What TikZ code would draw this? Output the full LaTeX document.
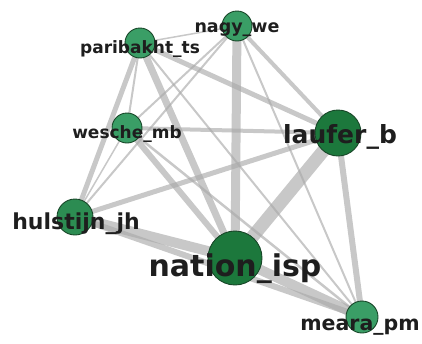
\documentclass[tikz,border=0pt]{standalone}
\usepackage{fontspec}
\setmainfont{DejaVu Sans}
\usepackage{xcolor}
\usepackage{tikz}
\usetikzlibrary{backgrounds}
\definecolor{nodelight}{RGB}{58,158,102}
\definecolor{nodemid}{RGB}{44,140,82}
\definecolor{nodedark}{RGB}{28,120,60}
\definecolor{nodeline}{RGB}{24,70,40}
\definecolor{edgegray}{RGB}{170,170,170}
\definecolor{labeltext}{RGB}{30,30,30}

\begin{document}
\begin{tikzpicture}[
        x=1pt, y=-1pt,
        author/.style={
            circle, draw=nodeline, line width=0.9pt,
            fill=nodelight, inner sep=0pt
        },
        tag/.style={
            anchor=base, inner sep=0pt, text=labeltext
        },
        edge/.style={draw=edgegray, opacity=0.65}
    ]
    \useasboundingbox (0,0) rectangle (422,343);

    % Authors
    \node[author, minimum size=30pt] (nagy) at (237,26) {};
    \node[author, minimum size=30pt] (paribakht) at (140,43) {};
    \node[author, minimum size=30pt] (wesche) at (127,128) {};
    \node[author, minimum size=46pt, fill=nodedark] (laufer) at (338,133) {};
    \node[author, minimum size=36pt, fill=nodemid] (hulstijn) at (75,217) {};
    \node[author, minimum size=54pt, fill=nodedark] (nation) at (235,258) {};
    \node[author, minimum size=32pt] (meara) at (362,317) {};

    % Co-citation links, behind the authors
    \begin{scope}[on background layer]
    \draw[edge, line width=13pt] (nation.center) -- (laufer.center);
    \draw[edge, line width=9pt] (nation.center) -- (nagy.center);
    \draw[edge, line width=10pt] (nation.center) -- (hulstijn.center);
    \draw[edge, line width=10pt] (nation.center) -- (meara.center);
    \draw[edge, line width=7pt] (nation.center) -- (paribakht.center);
    \draw[edge, line width=6pt] (nation.center) -- (wesche.center);
    \draw[edge, line width=6pt] (hulstijn.center) -- (meara.center);
    \draw[edge, line width=6pt] (laufer.center) -- (meara.center);
    \draw[edge, line width=5pt] (paribakht.center) -- (laufer.center);
    \draw[edge, line width=5pt] (hulstijn.center) -- (laufer.center);
    \draw[edge, line width=5pt] (paribakht.center) -- (hulstijn.center);
    \draw[edge, line width=4pt] (wesche.center) -- (laufer.center);
    \draw[edge, line width=4pt] (nagy.center) -- (laufer.center);
    \draw[edge, line width=2pt] (paribakht.center) -- (meara.center);
    \draw[edge, line width=2pt] (nagy.center) -- (meara.center);
    \draw[edge, line width=2.5pt] (wesche.center) -- (meara.center);
    \draw[edge, line width=2pt] (nagy.center) -- (wesche.center);
    \draw[edge, line width=2pt] (nagy.center) -- (hulstijn.center);
    \draw[edge, line width=1.5pt] (paribakht.center) -- (nagy.center);
    \draw[edge, line width=2pt] (paribakht.center) -- (wesche.center);
    \draw[edge, line width=1.5pt] (wesche.center) -- (hulstijn.center);
    \end{scope}

    % Labels
    \node[tag, font=\bfseries\fontsize{17.5}{18}\selectfont] (nagy-t) at (237,32) {nagy\_we};
    \node[tag, font=\bfseries\fontsize{17}{18}\selectfont] (paribakht-t) at (140,53) {paribakht\_ts};
    \node[tag, font=\bfseries\fontsize{17}{18}\selectfont] (wesche-t) at (127,138) {wesche\_mb};
    \node[tag, font=\bfseries\fontsize{25}{26}\selectfont] (laufer-t) at (340,143) {laufer\_b};
    \node[tag, font=\bfseries\fontsize{22}{23}\selectfont] (hulstijn-t) at (76,229) {hulstijn\_jh};
    \node[tag, font=\bfseries\fontsize{30}{31}\selectfont] (nation-t) at (235,276) {nation\_isp};
    \node[tag, font=\bfseries\fontsize{20.5}{21}\selectfont] (meara-t) at (360,330) {meara\_pm};

\end{tikzpicture}
\end{document}
